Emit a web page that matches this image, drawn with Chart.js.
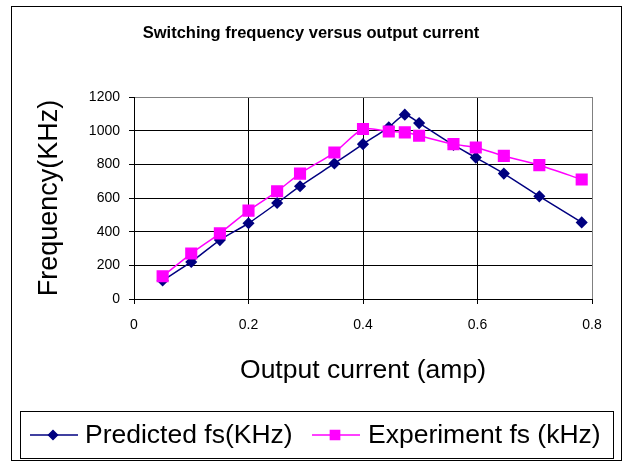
<!DOCTYPE html>
<html>
<meta charset="UTF-8">
<title>Switching frequency versus output current</title>
<style type="text/css">
	html,
	body {
		margin: 0px;
		background: #ffffff;
	}
</style>
<script src="https://cdn.jsdelivr.net/npm/chart.js"></script>

<body>
	<canvas id="myCanvas" width="626" height="463"></canvas>

	<script>
		// values
		var currentPredicted = [0.05, 0.10, 0.15, 0.20, 0.25, 0.29, 0.35, 0.40, 0.445, 0.473, 0.498, 0.558, 0.597, 0.646, 0.708, 0.782];
		var freqPredicted = [110, 220, 350, 450, 570, 670, 805, 920, 1020, 1095, 1045, 915, 840, 745, 610, 455];
		var currentExperiment = [0.05, 0.10, 0.15, 0.20, 0.25, 0.29, 0.35, 0.40, 0.445, 0.473, 0.498, 0.558, 0.597, 0.646, 0.708, 0.782];
		var freqExperiment = [135, 270, 390, 525, 640, 745, 870, 1010, 995, 990, 970, 920, 900, 850, 795, 710];

		var seriesNames = ['Predicted fs(KHz)', 'Experiment fs (kHz)'];
		var chartTitle = 'Switching frequency versus output current';
		var xTitle = 'Output current (amp)';
		var yTitle = 'Frequency(KHz)';

		var fontName = '"Liberation Sans", Arial, sans-serif';

		function toPoints(xs, ys) {
			var pts = [];
			for (var i = 0; i < xs.length; i++) {
				pts.push({ x: xs[i], y: ys[i] });
			}
			return pts;
		}

		// outer frame and legend box (Excel style legend: line + marker)
		var framePlugin = {
			id: 'frame',
			afterDraw: function (chart) {
				var ctx = chart.ctx;
				ctx.save();
				ctx.strokeStyle = '#000000';
				ctx.lineWidth = 1;
				ctx.strokeRect(11.5, 6.5, 610, 454);

				ctx.strokeRect(20.5, 411.5, 593, 47);

				var items = [
					{ x: 30, textX: 85, r: 4.5 },
					{ x: 312, textX: 368, r: 6.5 }
				];
				ctx.font = '26.5px ' + fontName;
				ctx.textBaseline = 'middle';
				ctx.textAlign = 'left';
				for (var i = 0; i < chart.data.datasets.length; i++) {
					var ds = chart.data.datasets[i];
					var it = items[i];
					var cy = 435;
					ctx.strokeStyle = ds.borderColor;
					ctx.lineWidth = ds.borderWidth;
					ctx.beginPath();
					ctx.moveTo(it.x, cy);
					ctx.lineTo(it.x + 48, cy);
					ctx.stroke();
					ctx.fillStyle = ds.pointBackgroundColor;
					ctx.strokeStyle = ds.pointBorderColor;
					Chart.helpers.drawPoint(ctx, {
						pointStyle: ds.pointStyle,
						radius: it.r,
						rotation: 0,
						borderWidth: 1
					}, it.x + 23, cy);
					ctx.fillStyle = '#000000';
					ctx.fillText(ds.label, it.textX, cy + 1);
				}
				ctx.restore();
			}
		};

		var config = {
			type: 'scatter',
			data: {
				datasets: [
					{
						label: seriesNames[0],
						data: toPoints(currentPredicted, freqPredicted),
						showLine: true,
						borderColor: '#000080',
						backgroundColor: '#000080',
						pointBackgroundColor: '#000080',
						pointBorderColor: '#000080',
						borderWidth: 1.5,
						pointStyle: 'rectRot',
						pointRadius: 5,
						tension: 0.25,
						order: 1
					},
					{
						label: seriesNames[1],
						data: toPoints(currentExperiment, freqExperiment),
						showLine: true,
						borderColor: '#ff00ff',
						backgroundColor: '#ff00ff',
						pointBackgroundColor: '#ff00ff',
						pointBorderColor: '#ff00ff',
						borderWidth: 1.5,
						pointStyle: 'rect',
						pointRadius: 7.5,
						tension: 0.25,
						order: 0
					}
				]
			},
			options: {
				responsive: false,
				animation: false,
				layout: {
					padding: { left: 30, right: 34, top: 0, bottom: 79.5 }
				},
				plugins: {
					legend: { display: false },
					tooltip: { enabled: false },
					title: {
						display: true,
						text: chartTitle,
						color: '#000000',
						font: { family: fontName, size: 16.5, weight: 'bold', lineHeight: 1.2 },
						padding: { top: 24, bottom: 53.2 }
					}
				},
				scales: {
					x: {
						type: 'linear',
						min: 0,
						max: 0.8,
						afterFit: function (scale) { scale.height = 84.5; },
						ticks: {
							stepSize: 0.2,
							color: '#000000',
							padding: 13,
							font: { family: fontName, size: 14 },
							callback: function (v) { return String(Math.round(v * 10) / 10); }
						},
						grid: {
							color: function (c) { return c.tick && c.tick.value >= 0.8 ? '#808080' : '#000000'; },
							lineWidth: 1,
							tickLength: 5,
							tickColor: '#000000'
						},
						border: { color: '#000000', width: 1 },
						title: {
							display: true,
							text: xTitle,
							color: '#000000',
							font: { family: fontName, size: 26.5, lineHeight: 1 },
							padding: { top: 0, bottom: 0 }
						}
					},
					y: {
						type: 'linear',
						min: 0,
						max: 1200,
						afterFit: function (scale) { scale.width = 104; },
						ticks: {
							stepSize: 200,
							color: '#000000',
							padding: 9,
							font: { family: fontName, size: 14 },
							callback: function (v) { return String(v); }
						},
						grid: {
							color: function (c) { return c.tick && c.tick.value >= 1200 ? '#808080' : '#000000'; },
							lineWidth: 1,
							tickLength: 5,
							tickColor: '#000000'
						},
						border: { color: '#000000', width: 1 },
						title: {
							display: true,
							text: yTitle,
							color: '#000000',
							font: { family: fontName, size: 27, lineHeight: 1 },
							padding: { top: 6.5, bottom: 0 }
						}
					}
				}
			},
			plugins: [framePlugin]
		};

		var myChart = new Chart(document.getElementById('myCanvas'), config);
	</script>
</body>

</html>
